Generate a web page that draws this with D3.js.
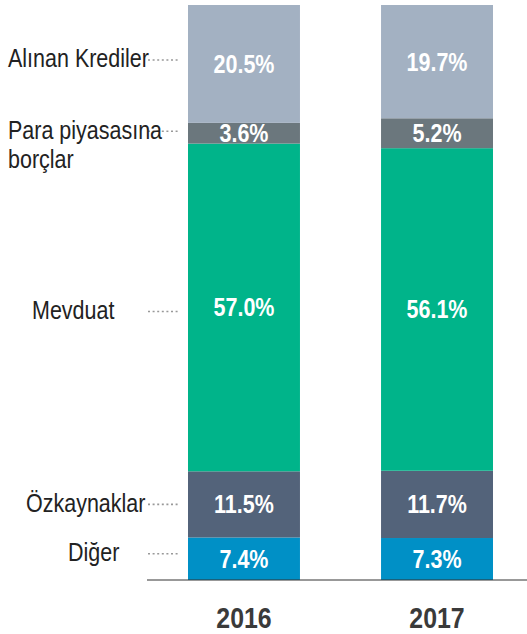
<!DOCTYPE html>
<html><head><meta charset="utf-8">
<script src="https://cdn.jsdelivr.net/npm/d3@7"></script>
<style>
body{margin:0;background:#fff;}
text{font-family:"Liberation Sans",Arial,sans-serif;}
</style></head>
<body><svg id="c" width="527" height="634"></svg>
<script>
const years = ["2016", "2017"];
const categories = ["Diğer", "Özkaynaklar", "Mevduat", "Para piyasasına borçlar", "Alınan Krediler"];
const values2016 = [7.4, 11.5, 57.0, 3.6, 20.5];
const values2017 = [7.3, 11.7, 56.1, 5.2, 19.7];
const colors = ["#0090c6", "#53637a", "#00b48a", "#6b777d", "#a3b1c2"];

const SX = 0.86; // condensed look
const svg = d3.select("#c");
const rows = years.map((y, i) => {
  const vals = i === 0 ? values2016 : values2017;
  const r = {year: y};
  categories.forEach((c, j) => r[c] = vals[j]);
  return r;
});
const stack = d3.stack().keys(categories)(rows);

const x = d3.scaleBand().domain(years).range([188, 493]).paddingInner(0.42).paddingOuter(0);
const y = d3.scaleLinear().domain([0, 100]).range([580, 5]);

function ctext(px, py, sx) {
  return svg.append("text").attr("transform", `translate(${px},${py}) scale(${sx || SX},1)`);
}

stack.forEach((layer, li) => {
  layer.forEach((d, di) => {
    svg.append("rect")
      .attr("x", x(years[di]))
      .attr("width", x.bandwidth())
      .attr("y", y(d[1]))
      .attr("height", y(d[0]) - y(d[1]))
      .attr("fill", colors[li]);
  });
});
stack.forEach((layer, li) => {
  layer.forEach((d, di) => {
    ctext(x(years[di]) + x.bandwidth() / 2, (y(d[0]) + y(d[1])) / 2 + 9)
      .attr("text-anchor", "middle")
      .attr("fill", "#fff")
      .attr("font-weight", "bold")
      .attr("font-size", 25)
      .text(d3.format(".1f")(d[1] - d[0]) + "%");
  });
});

// baseline
svg.append("line").attr("x1", 147).attr("x2", 527).attr("y1", y(0)).attr("y2", y(0))
  .attr("stroke", "#333").attr("stroke-width", 1);

// year labels
years.forEach(yr => {
  ctext(x(yr) + x.bandwidth() / 2, 628, 0.83)
    .attr("text-anchor", "middle").attr("font-weight", "bold").attr("font-size", 30)
    .attr("fill", "#3a3a3a").text(yr);
});

// category labels with dotted leaders
const labelLayout = [
  {lines: ["Diğer"], x: 68, dy: -5},
  {lines: ["Özkaynaklar"], x: 26, dy: 0},
  {lines: ["Mevduat"], x: 32, dy: 4},
  {lines: ["Para piyasasına", "borçlar"], x: 8, dy: -2},
  {lines: ["Alınan Krediler"], x: 8, dy: -4}
];
stack.forEach((layer, li) => {
  const d = layer[0];
  const ly = (y(d[0]) + y(d[1])) / 2 + labelLayout[li].dy;
  svg.append("line").attr("x1", 148).attr("x2", 178).attr("y1", ly).attr("y2", ly)
    .attr("stroke", "#999").attr("stroke-width", 1.6).attr("stroke-dasharray", "2,2.6");
  const t = ctext(labelLayout[li].x, ly + 7.5)
    .attr("font-size", 25).attr("fill", "#222");
  labelLayout[li].lines.forEach((ln, k) => {
    t.append("tspan").attr("x", 0).attr("dy", k === 0 ? 0 : 29).text(ln);
  });
});
</script></body></html>
